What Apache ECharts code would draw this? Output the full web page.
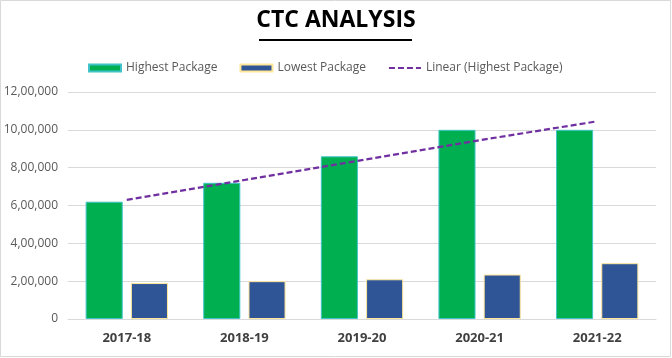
<!DOCTYPE html>
<html><head><meta charset="utf-8">
<script src="https://cdn.jsdelivr.net/npm/echarts@6/dist/echarts.min.js"></script>
<style>html,body{margin:0;padding:0;background:#fff}#c{width:672px;height:358px}</style>
</head><body><div id="c"></div>
<script>
var categories = ['2017-18','2018-19','2019-20','2020-21','2021-22'];
var highestPackage = [620000, 720000, 860000, 1000000, 1000000];
var lowestPackage = [190000, 200000, 210000, 235000, 295000];
var linearTrend = [630000, 735000, 840000, 945000, 1045000];
var yTickLabels = ['0','2,00,000','4,00,000','6,00,000','8,00,000','10,00,000','12,00,000'];

var FONT = '"Open Sans", "Noto Sans", sans-serif';
var chart = echarts.init(document.getElementById('c'));
chart.setOption({
  backgroundColor: '#fff',
  animation: false,
  textStyle: {fontFamily: FONT},
  graphic: [
    {type: 'rect', shape: {x: 0.5, y: 0.5, width: 670, height: 356}, style: {fill: 'none', stroke: '#D9D9D9', lineWidth: 1}, silent: true},
    {type: 'text', left: 'center', top: 9, style: {text: 'CTC ANALYSIS', font: 'bold 23px ' + FONT, fill: '#000'}},
    {type: 'rect', shape: {x: 259, y: 39, width: 153, height: 2}, style: {fill: '#000'}}
  ],
  legend: {
    top: 57, left: 83, itemGap: 22, itemWidth: 32, itemHeight: 7,
    textStyle: {color: '#595959', fontSize: 12, fontFamily: FONT},
    data: [
      {name: 'Highest Package', icon: 'rect'},
      {name: 'Lowest Package', icon: 'rect'},
      {name: 'Linear (Highest Package)', itemStyle: {opacity: 0}}
    ]
  },
  grid: {left: 68, right: 16, top: 92, bottom: 39},
  xAxis: {
    type: 'category', data: categories,
    axisLine: {lineStyle: {color: '#D9D9D9'}}, axisTick: {show: false},
    axisLabel: {color: '#404040', fontWeight: 'bold', fontSize: 13, margin: 13}
  },
  yAxis: {
    type: 'value', min: 0, max: 1200000, interval: 200000,
    axisLine: {show: false}, axisTick: {show: false},
    splitLine: {lineStyle: {color: '#D9D9D9'}},
    axisLabel: {color: '#595959', fontSize: 12, margin: 10, formatter: function (v) { return yTickLabels[Math.round(v / 200000)]; }}
  },
  series: [
    {name: 'Highest Package', type: 'bar', data: highestPackage, barGap: '22%', barCategoryGap: '30%',
     itemStyle: {color: '#00B050', borderColor: '#3FC3C8', borderWidth: 1}},
    {name: 'Lowest Package', type: 'bar', data: lowestPackage,
     itemStyle: {color: '#2F5597', borderColor: '#FFE699', borderWidth: 1}},
    {name: 'Linear (Highest Package)', type: 'line', data: linearTrend, symbol: 'none', z: 5,
     lineStyle: {color: '#7030A0', width: 2.2, type: [6, 3]}, itemStyle: {color: '#7030A0'}}
  ]
});
</script></body></html>
